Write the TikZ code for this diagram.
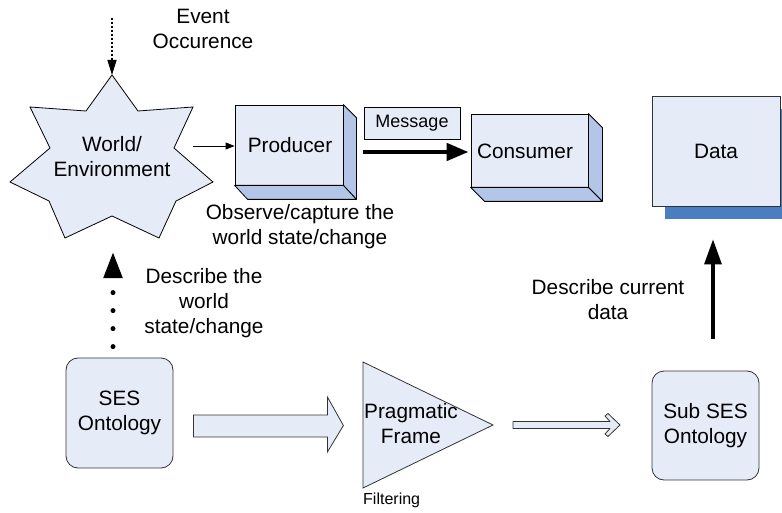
\documentclass[tikz,border=0pt]{standalone}
\usepackage{fontspec}
\setmainfont{Liberation Sans}
\usetikzlibrary{arrows.meta,shadows,calc}
\definecolor{fillc}{RGB}{230,236,247}
\definecolor{sidec}{RGB}{180,198,231}
\definecolor{shadc}{RGB}{74,126,195}
\definecolor{edgec}{RGB}{50,50,50}
\begin{document}
\begin{tikzpicture}[x=1pt,y=-1pt,
  font=\fontsize{20.8}{25}\selectfont,
  lbl/.style={align=center, inner sep=0pt},
  front/.style={draw=black, fill=fillc, line width=0.8pt, inner sep=0pt},
  side/.style={draw=black, fill=sidec, line width=0.8pt, line join=round},
  rbox/.style={draw=edgec, fill=fillc, line width=0.8pt, rounded corners=12pt, align=center, inner sep=0pt},
  thin/.style={line width=0.8pt, -{Triangle[length=9pt,width=7pt]}},
  heavy/.style={line width=4.5pt, -{Triangle[length=22pt,width=17pt]}},
  upheavy/.style={line width=3.2pt, -{Triangle[length=25pt,width=17pt]}},
  evdots/.style={line width=1.3pt, dash pattern=on 2pt off 2pt, -{Triangle[length=15pt,width=9pt]}},
  bigdots/.style={line width=5pt, line cap=round, dash pattern=on 0pt off 18pt, -{Triangle[length=26pt,width=18pt]}},
  blk/.style={draw=edgec, fill=fillc, line width=0.8pt, line join=miter}
]
\useasboundingbox (0,0) rectangle (782,513);

% ---------- World / Environment star ----------
\draw[draw=black, fill=fillc, line width=0.8pt, line join=miter]
  (112,75) -- (86,111) -- (30,107) -- (50,148) -- (10,182) -- (49,201) --
  (65,238) -- (112,216) -- (159,238) -- (176,201) -- (213,182) -- (174,148) --
  (193,107) -- (138,111) -- cycle;
\node[lbl] (world) at (112,157) {World/\\Environment};
\coordinate (startop) at (112,75);
\coordinate (starright) at (193,146);
\coordinate (starbottom) at (113,252);
\coordinate (evtop) at (112,18);

\node[lbl] (event) at (203,29) {Event\\Occurence};
\draw[evdots] (evtop) -- (startop);

% ---------- Producer ----------
\node[front, minimum width=108pt, minimum height=80pt] (prod) at (289,145) {};
\draw[side] (prod.north east) -- ++(13,13) -- ($(prod.south east)+(13,14)$) -- (prod.south east) -- cycle;
\draw[side] (prod.south west) -- (prod.south east) -- ($(prod.south east)+(13,14)$) -- ($(prod.south west)+(13,14)$) -- cycle;
\node[lbl] at (290,145) {Producer};
\draw[thin] (starright) -- (prod.west |- starright);

\node[lbl] (observe) at (300,227) {Observe/capture the\\world state/change};

% ---------- Consumer ----------
\node[front, minimum width=117pt, minimum height=73pt] (cons) at (529.5,150.5) {};
\draw[side] (cons.north east) -- ++(14,14) -- ($(cons.south east)+(14,14)$) -- (cons.south east) -- cycle;
\draw[side] (cons.south west) -- (cons.south east) -- ($(cons.south east)+(14,14)$) -- ($(cons.south west)+(14,14)$) -- cycle;
\node[lbl] at (525,151) {Consumer};

% ---------- Message ----------
\node[front, minimum width=96pt, minimum height=32pt, font=\fontsize{18}{20}\selectfont] (msg) at (412,123) {Message};
\draw[heavy] ([shift={(20,7)}]prod.east) -- ([shift={(-2,1.5)}]cons.west);

% ---------- Data ----------
\node[draw=edgec, fill=fillc, line width=0.8pt, minimum width=128pt, minimum height=110pt,
      general shadow={fill=shadc, shadow xshift=13pt, shadow yshift=-13pt}] (data) at (716,151) {Data};

% ---------- SES Ontology ----------
\node[rbox, minimum width=107pt, minimum height=110pt] (ses) at (119.5,413) {SES\\Ontology};
\draw[bigdots] ([xshift=-6.5pt,yshift=11pt]ses.north) -- (starbottom);
\node[lbl] (describe) at (204,303) {Describe the\\world\\state/change};

% ---------- block arrow ----------
\begin{scope}[shift={(ses.east)}]
  \draw[blk] (20,2) -- (154,2) -- (154,-16) -- (170,12.5) -- (154,39) -- (154,24) -- (20,24) -- cycle;
\end{scope}

% ---------- Pragmatic Frame ----------
\coordinate (pt) at (363,362);
\coordinate (pb) at (363,488);
\coordinate (pa) at (493,425);
\draw[draw=edgec, fill=fillc, line width=0.8pt, line join=miter] (pt) -- (pa) -- (pb) -- cycle;
\node[lbl] (prag) at (411,424) {Pragmatic\\Frame};
\node[lbl, anchor=west, font=\fontsize{16}{18}\selectfont] (filter) at (363,500) {Filtering};

% ---------- Sub SES Ontology ----------
\node[rbox, minimum width=107pt, minimum height=109pt] (sub) at (705.5,425.5) {Sub SES\\Ontology};

% ---------- open arrow ----------
\begin{scope}[shift={(pa)}]
  \draw[blk, line join=round] (20,-3.5) -- (117,-3.5) -- (112,-9) -- (115,-11.5) -- (127,0) -- (115,11.5) -- (112,9) -- (117,3.5) -- (20,3.5) -- cycle;
\end{scope}

% ---------- Data arrow ----------
\draw[upheavy] ([xshift=7.5pt,yshift=32pt]sub.north) -- ([xshift=-3pt,yshift=-33pt]data.south);
\node[lbl] (current) at (608,299.5) {Describe current\\data};
\end{tikzpicture}
\end{document}
